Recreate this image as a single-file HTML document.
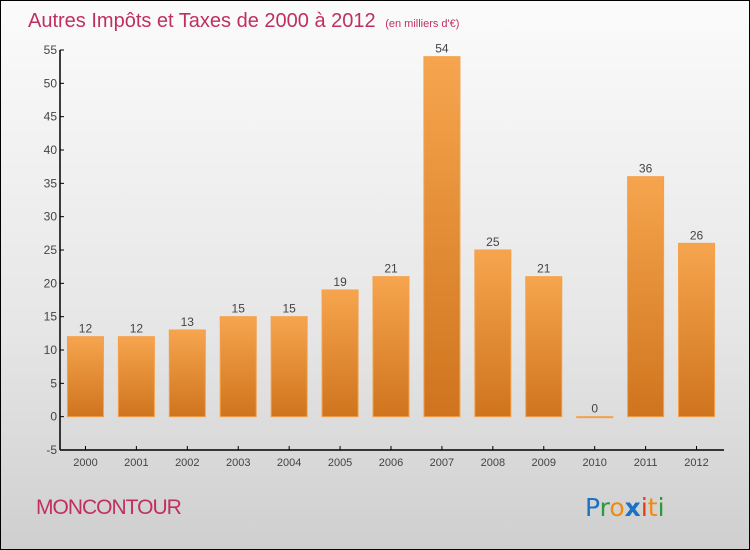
<!DOCTYPE html>
<html><head><meta charset="utf-8"><style>
html,body{margin:0;padding:0}
body{width:750px;height:550px;overflow:hidden;font-family:"Liberation Sans",sans-serif}
#wrap{position:relative;width:748px;height:548px;border:1px solid #000;background:linear-gradient(#fbfbfb,#e6e6e6 60%,#cfcfcf)}
</style></head><body>
<div id="wrap">
<svg id="chart" width="748" height="548" style="position:absolute;left:0;top:0">
<defs><linearGradient id="bg" x1="0" y1="0" x2="0" y2="1"><stop offset="0" stop-color="#f6a54e"/><stop offset="1" stop-color="#cf741e"/></linearGradient></defs>
<text x="27" y="26" font-size="20" fill="#c0305e">Autres Impôts et Taxes de 2000 à 2012 <tspan font-size="11" dx="4">(en milliers d'€)</tspan></text>
<text x="35" y="513" font-size="21" fill="#c0305e" letter-spacing="-1">MONCONTOUR</text>
<text x="584" y="515" font-size="25" font-family="DejaVu Sans, sans-serif"><tspan fill="#1a72c8">P</tspan><tspan fill="#2a9a3a">r</tspan><tspan fill="#f08a10">o</tspan><tspan fill="#1a72c8" font-weight="bold">x</tspan><tspan fill="#e03a10">i</tspan><tspan fill="#f08a10">t</tspan><tspan fill="#2a9a3a">i</tspan></text>
<g id="axes"></g><g id="bars"></g>
</svg>
</div>
<script>
const categories=["2000","2001","2002","2003","2004","2005","2006","2007","2008","2009","2010","2011","2012"];
const values=[12,12,13,15,15,19,21,54,25,21,0,36,26];
const yTicks=[-5,0,5,10,15,20,25,30,35,40,45,50,55];
const NS="http://www.w3.org/2000/svg";
const x0=59,y0=449,yTop=49,yMin=-5,yMax=55,x1=721;
const step=(x1-x0)/categories.length;
function ys(v){return y0-(v-yMin)/(yMax-yMin)*(y0-yTop);}
function xs(i){return x0+step*(i+0.5);}
function mk(t,a,p){const e=document.createElementNS(NS,t);for(const k in a)e.setAttribute(k,a[k]);p.appendChild(e);return e;}
const ax=document.getElementById('axes'),bg=document.getElementById('bars');
const yl=mk('line',{x1:x0,y1:yTop,x2:x0,y2:y0,stroke:'#000','stroke-width':1.5},ax);


const xl=mk('line',{x1:x0,y1:y0,x2:x1+2,y2:y0,stroke:'#000','stroke-width':1.5},ax);


yTicks.forEach(v=>{const y=ys(v);
mk('line',{x1:x0,y1:y,x2:x0+4,y2:y,stroke:'#000'},ax);
const t=mk('text',{x:x0-3,y:y+4,'text-anchor':'end','font-size':12,fill:'#444'},ax);t.textContent=v;

});
categories.forEach((c,i)=>{const cx=xs(i),v=values[i];
mk('line',{x1:cx,y1:y0,x2:cx,y2:y0-4,stroke:'#000'},ax);
const t=mk('text',{x:cx,y:y0+16,'text-anchor':'middle','font-size':11,fill:'#444'},ax);t.textContent=c;


const top=ys(Math.max(v,0)),h=Math.max(ys(0)-top,1);
const r=mk('rect',{x:cx-18,y:top,width:36,height:h,fill:'url(#bg)',stroke:'#f4a04a','stroke-width':1},bg);


const l=mk('text',{x:cx,y:top-4,'text-anchor':'middle','font-size':12,fill:'#444'},bg);l.textContent=v;

});
</script>
</body></html>
